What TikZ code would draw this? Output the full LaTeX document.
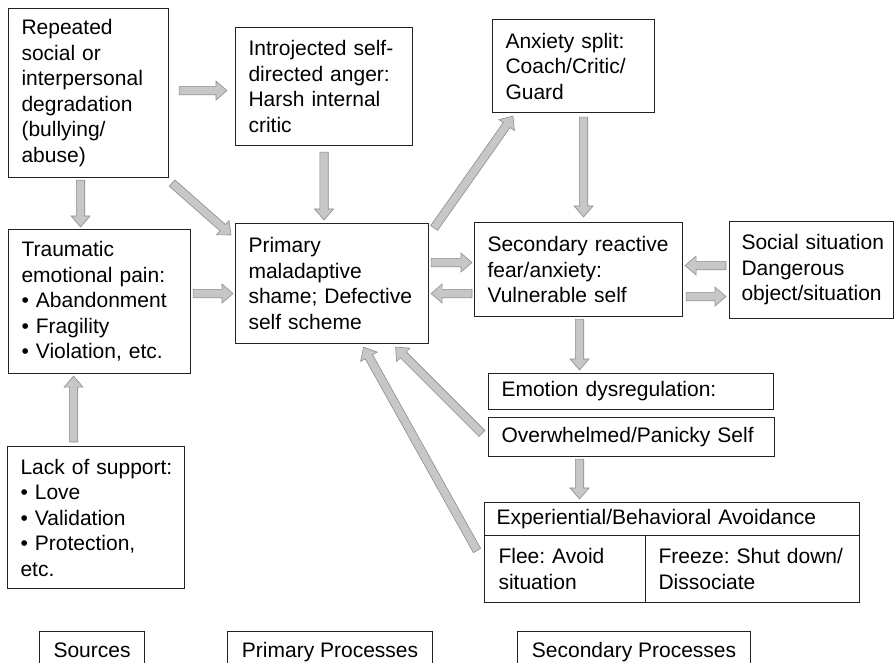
\documentclass[tikz,border=0pt]{standalone}
\usepackage{fontspec}
\setmainfont{Liberation Sans}
\usetikzlibrary{calc}
\definecolor{arrowfill}{rgb}{0.78,0.78,0.79}
\definecolor{arrowline}{rgb}{0.55,0.55,0.56}
\definecolor{boxline}{rgb}{0.13,0.13,0.13}
\frenchspacing
\hyphenpenalty=10000
\exhyphenpenalty=10000

\tikzset{
  box/.style={draw=boxline, line width=1.1pt, anchor=north west, align=left,
    inner xsep=13pt, inner ysep=0pt, font=\fontsize{21}{25.5}\selectfont},
  tag/.style={draw=boxline, line width=1.1pt, anchor=north west, align=center,
    minimum height=42pt, inner xsep=0pt, text height=15pt, text depth=4.5pt,
    font=\fontsize{21}{25.5}\selectfont},
  flow/.style={fill=arrowfill, draw=arrowline, line width=0.6pt, line join=miter}
}

% block arrow from #1 to #2
\newcommand{\flowarrow}[2]{%
  \path (#1) coordinate (fs) (#2) coordinate (ft);
  \path ($(ft)!11pt!(fs)$) coordinate (fh);
  \filldraw[flow] ($(fs)!4.2pt!90:(ft)$) -- ($(fh)!4.2pt!-90:(fs)$) -- ($(fh)!9.5pt!-90:(fs)$)
    -- (ft) -- ($(fh)!9.5pt!90:(fs)$) -- ($(fh)!4.2pt!90:(fs)$) -- ($(fs)!4.2pt!-90:(ft)$) -- cycle;}

\begin{document}
\begin{tikzpicture}[x=1pt, y=-1pt]

	\useasboundingbox (0,0) rectangle (895,663);

	% sources
	\node[box, text width=134pt, minimum height=169pt] (rep) at (8,8)
		{Repeated\\social~or\\interpersonal\\degradation\\(bullying/\\abuse)};
	\node[box, text width=156pt, minimum height=144pt] (trauma) at (8,229)
		{Traumatic\\emotional~pain:\\•~Abandonment\\•~Fragility\\•~Violation,~etc.};
	\node[box, text width=151pt, minimum height=142pt] (lack) at (7,446)
		{Lack~of~support:\\•~Love\\•~Validation\\•~Protection,\\etc.};

	% primary processes
	\node[box, text width=151pt, minimum height=118pt] (intro) at (235,27)
		{Introjected~self-\\directed~anger:\\Harsh~internal\\critic};
	\node[box, text width=167pt, minimum height=120pt] (prim) at (235,223)
		{Primary\\maladaptive\\shame;~Defective\\self~scheme};

	% secondary processes
	\node[box, text width=136pt, minimum height=93pt] (anx) at (492,19)
		{Anxiety~split:\\Coach/Critic/\\Guard};
	\node[box, text width=182pt, minimum height=94pt] (sec) at (474,222)
		{Secondary~reactive\\fear/anxiety:\\Vulnerable~self};
	\node[box, text width=140pt, minimum height=97pt, inner xsep=12pt] (soc) at (729,221)
		{Social~situation\\Dangerous\\object/situation};
	\node[box, text width=259pt, minimum height=36pt] (emo) at (488,373)
		{Emotion dysregulation:};
	\node[box, text width=260pt, minimum height=39pt] (over) at (488,417)
		{Overwhelmed/Panicky Self};
	\node[box, text width=351pt, minimum height=33pt, inner xsep=12pt] (avoid) at (484,502)
		{Experiential/Behavioral Avoidance};
	\node[box, text width=133pt, minimum height=67pt, inner xsep=14pt] (flee) at (484,535)
		{Flee:~Avoid\\situation};
	\node[box, text width=188pt, minimum height=67pt] (freeze) at (645,535)
		{Freeze:~Shut~down/\\Dissociate};

	% column labels
	\node[tag, minimum width=105pt] (src) at (39,631) {Sources};
	\node[tag, minimum width=205pt] (pp) at (227,631) {Primary Processes};
	\node[tag, minimum width=233pt] (sp) at (517,631) {Secondary Processes};

	% arrows
	\flowarrow{$(rep.east)+(10,-2.5)$}{$(intro.west)+(-8,4)$}
	\flowarrow{$(rep.south)+(-8,2)$}{$(trauma.north)+(-19,-2)$}
	\flowarrow{$(rep.south east)+(3,5)$}{$(prim.north west)+(-4,12)$}
	\flowarrow{$(intro.south)+(0,6)$}{$(prim.north)+(-8,-3)$}
	\flowarrow{$(trauma.east)+(2,-8)$}{$(prim.west)+(-2,10)$}
	\flowarrow{$(lack.north)+(-22.5,-4)$}{$(trauma.south)+(-26,2)$}
	\flowarrow{$(prim.north east)+(5,5)$}{$(anx.south west)+(21,3)$}
	\flowarrow{$(prim.east)+(2,-21)$}{$(sec.west)+(-2,-7)$}
	\flowarrow{$(sec.west)+(-2,24)$}{$(prim.east)+(2,10)$}
	\flowarrow{$(anx.south)+(10,4)$}{$(sec.north)+(5,-5)$}
	\flowarrow{$(soc.west)+(-3,-4.5)$}{$(sec.east)+(2,-4)$}
	\flowarrow{$(sec.east)+(3,27)$}{$(soc.west)+(-3,26.5)$}
	\flowarrow{$(sec.south)+(1,2)$}{$(emo.north)+(-51.5,-3)$}
	\flowarrow{$(over.south)+(-52,2)$}{$(avoid.north)+(-92.5,-3)$}
	\flowarrow{$(over.west)+(-6,-3.5)$}{$(prim.south)+(63.5,3)$}
	\flowarrow{$(flee.west)+(-7,-18.5)$}{$(prim.south)+(31.5,3)$}

\end{tikzpicture}
\end{document}
